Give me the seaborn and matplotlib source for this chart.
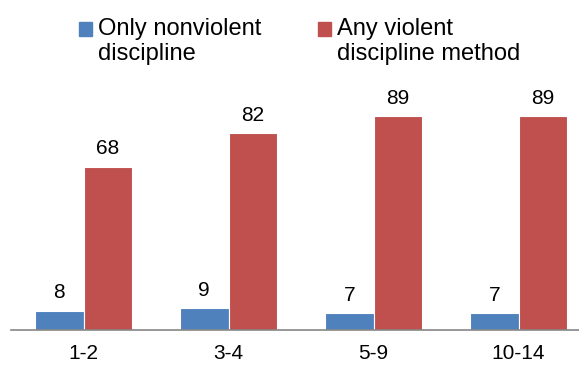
import matplotlib
matplotlib.use("Agg")
import matplotlib.pyplot as plt
import seaborn as sns
import pandas as pd
from matplotlib.patches import Patch

age_groups = ["1-2", "3-4", "5-9", "10-14"]
only_nonviolent = [8, 9, 7, 7]
any_violent = [68, 82, 89, 89]
series_names = ["Only nonviolent\ndiscipline", "Any violent\ndiscipline method"]
colors = ["#4F81BD", "#C0504D"]

df = pd.DataFrame({
    "age": age_groups * 2,
    "value": only_nonviolent + any_violent,
    "series": [series_names[0]] * 4 + [series_names[1]] * 4,
})

sns.set_style("white")
plt.rcParams["font.family"] = ["Liberation Sans", "DejaVu Sans"]
plt.rcParams["text.color"] = "black"
plt.rcParams["xtick.color"] = "black"

fig = plt.figure(figsize=(5.79, 3.67), dpi=100)
ax = fig.add_axes([11 / 579, 37 / 367, 568 / 579, 330 / 367])

sns.barplot(data=df, x="age", y="value", hue="series", palette=colors,
            saturation=1, width=0.67, edgecolor="white", linewidth=0.8,
            legend=False, ax=ax)

for cont in ax.containers:
    ax.bar_label(cont, fontsize=15, padding=6, color="black")

ax.set_xlim(-0.5, 3.417)
ax.set_ylim(0, 137.5)
ax.set_xlabel("")
ax.set_ylabel("")
ax.set_yticks([])
ax.tick_params(axis="x", length=0, labelsize=15, pad=10, labelcolor="black")
for s in ["top", "right", "left"]:
    ax.spines[s].set_visible(False)
ax.spines["bottom"].set_color("#868686")
ax.spines["bottom"].set_linewidth(1.2)

handles = [Patch(color=c) for c in colors]
leg = ax.legend(handles, series_names, ncol=2, frameon=False, fontsize=17,
                loc="upper left", bbox_to_anchor=(0.12, 0.945),
                handlelength=0.55, handleheight=0.55, handletextpad=0.25,
                columnspacing=2.4, labelspacing=0.2, borderaxespad=0,
                borderpad=0)
for t in leg.get_texts():
    t.set_linespacing(1.15)
    t.set_color("black")
# put the colour squares beside the first line of each label
for h in leg.legend_handles:
    h.set_y(h.get_y() + 9)

fig.savefig("out.png", dpi=100)
